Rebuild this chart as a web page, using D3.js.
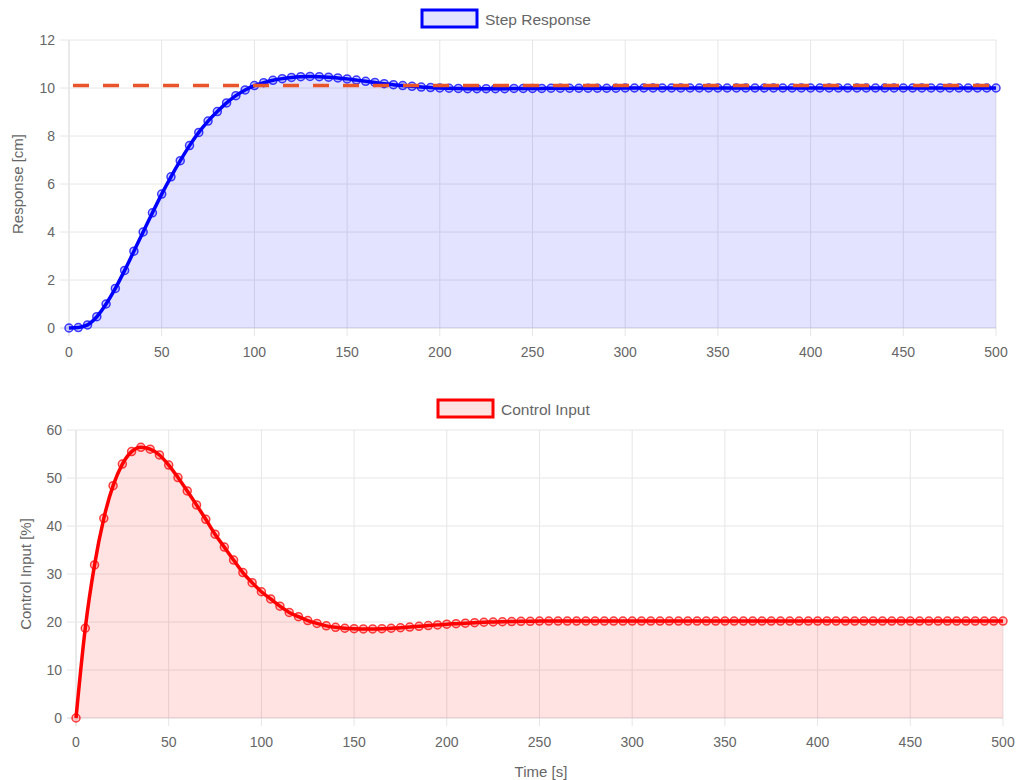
<!DOCTYPE html>
<meta charset="utf-8" />

<!-- Load d3.js -->
<script src="https://d3js.org/d3.v7.js"></script>

<style>
  body {
    margin: 0;
    background: white;
  }
  text {
    font-family: "Liberation Sans", Arial, Helvetica, sans-serif;
    fill: #666;
  }
</style>

<!-- Create a div where the graph will take place -->
<div id="my_dataviz"></div>

<script>
  // time in seconds, one sample every 5 s
  var timeSteps = [
    0, 5, 10, 15, 20, 25, 30, 35, 40, 45,
    50, 55, 60, 65, 70, 75, 80, 85, 90, 95,
    100, 105, 110, 115, 120, 125, 130, 135, 140, 145,
    150, 155, 160, 165, 170, 175, 180, 185, 190, 195,
    200, 205, 210, 215, 220, 225, 230, 235, 240, 245,
    250, 255, 260, 265, 270, 275, 280, 285, 290, 295,
    300, 305, 310, 315, 320, 325, 330, 335, 340, 345,
    350, 355, 360, 365, 370, 375, 380, 385, 390, 395,
    400, 405, 410, 415, 420, 425, 430, 435, 440, 445,
    450, 455, 460, 465, 470, 475, 480, 485, 490, 495,
    500
  ];

  // step response [cm]
  var stepResponse = [
    0, 0.02, 0.13, 0.47, 1.0, 1.65, 2.4, 3.2, 4.0, 4.8,
    5.58, 6.3, 6.97, 7.6, 8.15, 8.62, 9.02, 9.38, 9.68, 9.92,
    10.1, 10.22, 10.32, 10.39, 10.44, 10.47, 10.48, 10.47, 10.45, 10.42,
    10.38, 10.33, 10.28, 10.23, 10.18, 10.14, 10.1, 10.07, 10.04, 10.02,
    10.0, 9.99, 9.98, 9.97, 9.97, 9.97, 9.97, 9.97, 9.98, 9.98,
    9.98, 9.98, 9.99, 9.99, 9.99, 9.99, 9.99, 9.99, 9.99, 9.99,
    10.0, 10.0, 10.0, 10.0, 10.0, 10.0, 10.0, 10.0, 10.0, 10.0,
    10.0, 10.0, 10.0, 10.0, 10.0, 10.0, 10.0, 10.0, 10.0, 10.0,
    10.0, 10.0, 10.0, 10.0, 10.0, 10.0, 10.0, 10.0, 10.0, 10.0,
    10.0, 10.0, 10.0, 10.0, 10.0, 10.0, 10.0, 10.0, 10.0, 10.0,
    10.0
  ];

  // set point (dashed line)
  var setPoint = 10.1;

  // control input [%]
  var controlInput = [
    0, 18.7, 31.9, 41.6, 48.4, 52.9, 55.5, 56.4, 56.0, 54.8,
    52.7, 50.1, 47.3, 44.4, 41.4, 38.3, 35.6, 32.9, 30.3, 28.2,
    26.3, 24.8, 23.3, 22.0, 21.1, 20.3, 19.7, 19.2, 18.9, 18.7,
    18.6, 18.55, 18.55, 18.6, 18.7, 18.8, 18.95, 19.1, 19.25, 19.4,
    19.55, 19.65, 19.75, 19.85, 19.95, 20.0, 20.05, 20.1, 20.15, 20.15,
    20.2, 20.2, 20.2, 20.2, 20.2, 20.2, 20.2, 20.2, 20.2, 20.2,
    20.2, 20.2, 20.2, 20.2, 20.2, 20.2, 20.2, 20.2, 20.2, 20.2,
    20.2, 20.2, 20.2, 20.2, 20.2, 20.2, 20.2, 20.2, 20.2, 20.2,
    20.2, 20.2, 20.2, 20.2, 20.2, 20.2, 20.2, 20.2, 20.2, 20.2,
    20.2, 20.2, 20.2, 20.2, 20.2, 20.2, 20.2, 20.2, 20.2, 20.2,
    20.2
  ];

  var xTicks = [0, 50, 100, 150, 200, 250, 300, 350, 400, 450, 500];
  var responseTicks = [0, 2, 4, 6, 8, 10, 12];
  var controlTicks = [0, 10, 20, 30, 40, 50, 60];

  const svg = d3
    .select("#my_dataviz")
    .append("svg")
    .attr("width", 1017)
    .attr("height", 780);

  function drawPanel(opts) {
    var x = d3.scaleLinear().domain([0, 500]).range([opts.left, opts.right]);
    var y = d3
      .scaleLinear()
      .domain([0, opts.yMax])
      .range([opts.bottom, opts.top]);

    var g = svg.append("g");

    // grid lines (with little tick stubs outside the plot)
    g.append("g")
      .selectAll("line")
      .data(xTicks)
      .join("line")
      .attr("x1", (d) => x(d))
      .attr("x2", (d) => x(d))
      .attr("y1", opts.top)
      .attr("y2", opts.bottom + 8)
      .attr("stroke", (d) => (d === 0 ? "#d4d4d4" : "#e6e6e6"))
      .attr("stroke-width", 1);

    g.append("g")
      .selectAll("line")
      .data(opts.yTicks)
      .join("line")
      .attr("x1", opts.left - 9)
      .attr("x2", opts.right)
      .attr("y1", (d) => y(d))
      .attr("y2", (d) => y(d))
      .attr("stroke", (d) => (d === 0 ? "#d4d4d4" : "#e6e6e6"))
      .attr("stroke-width", 1);

    // tick labels
    g.append("g")
      .selectAll("text")
      .data(xTicks)
      .join("text")
      .attr("x", (d) => x(d))
      .attr("y", opts.bottom + 24)
      .attr("text-anchor", "middle")
      .attr("dominant-baseline", "central")
      .style("font-size", "14px")
      .text((d) => d);

    g.append("g")
      .selectAll("text")
      .data(opts.yTicks)
      .join("text")
      .attr("x", opts.left - 14)
      .attr("y", (d) => y(d))
      .attr("text-anchor", "end")
      .attr("dominant-baseline", "central")
      .style("font-size", "14px")
      .text((d) => d);

    // y axis title
    g.append("text")
      .attr(
        "transform",
        "translate(" + opts.titleX + "," + (opts.top + opts.bottom) / 2 + ") rotate(-90)"
      )
      .attr("text-anchor", "middle")
      .attr("dominant-baseline", "central")
      .style("font-size", "15px")
      .text(opts.yTitle);

    var pts = timeSteps.map((t, i) => [t, opts.values[i]]);

    // area fill
    g.append("path")
      .datum(pts)
      .attr("fill", opts.fill)
      .attr(
        "d",
        d3
          .area()
          .curve(d3.curveMonotoneX)
          .x((d) => x(d[0]))
          .y0(y(0))
          .y1((d) => y(d[1]))
      );

    // line
    g.append("path")
      .datum(pts)
      .attr("fill", "none")
      .attr("stroke", opts.color)
      .attr("stroke-width", 3.5)
      .attr(
        "d",
        d3
          .line()
          .curve(d3.curveMonotoneX)
          .x((d) => x(d[0]))
          .y((d) => y(d[1]))
      );

    // points
    g.append("g")
      .selectAll("circle")
      .data(pts)
      .join("circle")
      .attr("cx", (d) => x(d[0]))
      .attr("cy", (d) => y(d[1]))
      .attr("r", 4)
      .attr("fill", opts.pointFill)
      .attr("stroke", opts.color)
      .attr("stroke-opacity", 0.75)
      .attr("stroke-width", 1.5);

    // set point dashed line, drawn on top of the response
    if (opts.setPoint !== undefined) {
      g.append("line")
        .attr("x1", x(0))
        .attr("x2", x(500))
        .attr("y1", y(opts.setPoint))
        .attr("y2", y(opts.setPoint))
        .attr("stroke", "#e8552b")
        .attr("stroke-width", 3.5)
        .attr("stroke-dasharray", "16,14")
        .attr("stroke-dashoffset", 26);
    }

    // legend
    var legend = g.append("g");
    legend
      .append("rect")
      .attr("x", opts.legendX)
      .attr("y", opts.legendY - 8)
      .attr("width", 55)
      .attr("height", 17)
      .attr("fill", opts.fill)
      .attr("stroke", opts.color)
      .attr("stroke-width", 3);
    legend
      .append("text")
      .attr("x", opts.legendX + 63)
      .attr("y", opts.legendY + 1)
      .attr("dominant-baseline", "central")
      .style("font-size", "15.5px")
      .text(opts.label);
  }

  drawPanel({
    left: 69,
    right: 996,
    top: 40,
    bottom: 328,
    yMax: 12,
    yTicks: responseTicks,
    yTitle: "Response [cm]",
    titleX: 17,
    values: stepResponse,
    setPoint: setPoint,
    color: "#0000ff",
    fill: "rgba(0,0,255,0.11)",
    pointFill: "rgba(0,0,255,0.2)",
    label: "Step Response",
    legendX: 422,
    legendY: 18
  });

  drawPanel({
    left: 76,
    right: 1003,
    top: 430,
    bottom: 718,
    yMax: 60,
    yTicks: controlTicks,
    yTitle: "Control Input [%]",
    titleX: 25,
    values: controlInput,
    color: "#ff0000",
    fill: "rgba(255,0,0,0.11)",
    pointFill: "rgba(255,0,0,0.2)",
    label: "Control Input",
    legendX: 438,
    legendY: 408
  });

  // x axis title
  svg
    .append("text")
    .attr("x", 541)
    .attr("y", 771)
    .attr("text-anchor", "middle")
    .attr("dominant-baseline", "central")
    .style("font-size", "15px")
    .text("Time [s]");
</script>
